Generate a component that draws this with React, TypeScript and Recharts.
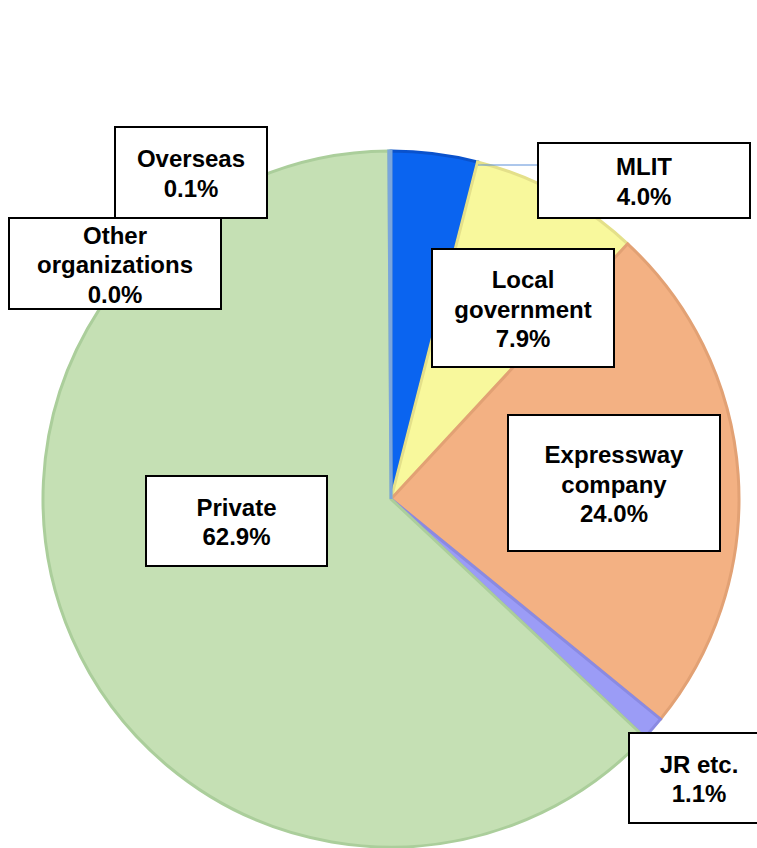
import { PieChart, Pie, Cell } from 'recharts';

// 発注者別シェア (clockwise from 12 o'clock)
const categories = ['MLIT', 'Local\ngovernment', 'Expressway\ncompany', 'JR etc.', 'Private', 'Other\norganizations', 'Overseas'];
const shares = [4.0, 7.9, 24.0, 1.1, 62.9, 0.0, 0.1];

const FILLS = ['#0a64f0', '#f8f89c', '#f3b183', '#9b9cf6', '#c5e0b4', '#c8d8c0', '#7aa6dc'];
const STROKES = ['#0a52cc', '#e4e08a', '#e2a174', '#8a8ae2', '#abce9b', '#abce9b', '#7aa6dc'];

// label box placement, relative to the pie centre: [dx, dy, width, height]
const BOXES: [number, number, number, number][] = [
  [147, -356, 212, 75],
  [41, -250, 182, 118],
  [117, -84, 212, 136],
  [238, 234, 140, 90],
  [-245, -23, 181, 90],
  [-382, -281, 212, 91],
  [-276, -372, 152, 91],
];

const data = categories.map((name, i) => ({ name, value: shares[i] }));

const CX = 391;
const CY = 499;
const R = 348;

function renderLabel(props: any) {
  const { cx, cy, index } = props;
  const [dx, dy, w, h] = BOXES[index];
  const x = cx + dx;
  const y = cy + dy;
  const lines = [...categories[index].split('\n'), `${shares[index].toFixed(1)}%`];
  const lh = 29.5;
  const top = y + h / 2 - ((lines.length - 1) * lh) / 2 + 1;
  return (
    <g key={`lbl-${index}`}>
      {index === 0 && (
        <line x1={cx + 87} y1={cy - 334} x2={x} y2={cy - 334} stroke="#5b8fd8" strokeWidth={1} />
      )}
      <rect x={x} y={y} width={w} height={h} fill="#ffffff" stroke="#000000" strokeWidth={2} />
      <text
        x={x + w / 2}
        textAnchor="middle"
        fontFamily="'Liberation Sans', Arial, sans-serif"
        fontWeight="bold"
        fontSize={24}
        fill="#000000"
      >
        {lines.map((ln, i) => (
          <tspan key={i} x={x + w / 2} y={top + i * lh} dominantBaseline="central">
            {ln}
          </tspan>
        ))}
      </text>
    </g>
  );
}

export default function App() {
  return (
    <div style={{ position: 'absolute', left: 0, top: 0, width: 757, height: 848, background: '#fff', overflow: 'hidden' }}>
      <PieChart width={757} height={848} margin={{ top: 0, right: 0, bottom: 0, left: 0 }}>
        <Pie
          data={data}
          dataKey="value"
          nameKey="name"
          cx={CX}
          cy={CY}
          outerRadius={R}
          startAngle={90}
          endAngle={-270}
          label={renderLabel}
          labelLine={false}
          isAnimationActive={false}
        >
          {data.map((entry, index) => (
            <Cell key={`cell-${index}`} fill={FILLS[index]} stroke={STROKES[index]} strokeWidth={3} />
          ))}
        </Pie>
      </PieChart>
    </div>
  );
}
